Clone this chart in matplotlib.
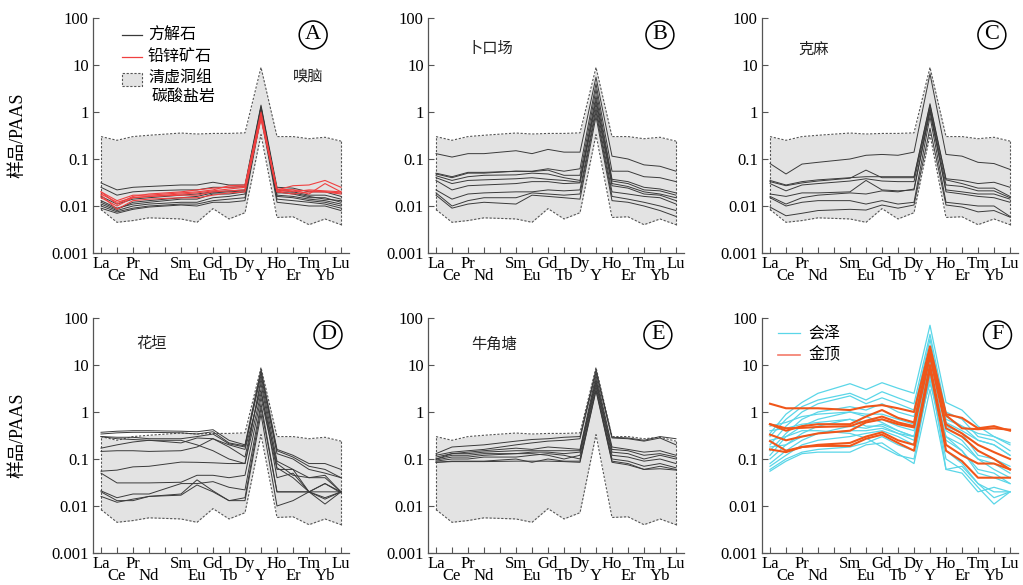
import matplotlib
matplotlib.use('Agg')
import matplotlib.pyplot as plt
from matplotlib.patches import Rectangle
from matplotlib.lines import Line2D
from matplotlib.ticker import FixedLocator, FixedFormatter

plt.rcParams['font.family'] = ['Liberation Serif', 'Noto Sans CJK SC', 'DejaVu Sans']
CJK = ['Noto Sans CJK SC', 'DejaVu Sans']

# ---------------- data ----------------
elements = ['La', 'Ce', 'Pr', 'Nd', 'Sm', 'Eu', 'Gd', 'Tb', 'Dy', 'Y', 'Ho', 'Er', 'Tm', 'Yb', 'Lu']
x_pos = [0, 1, 2, 3, 5, 6, 7, 8, 9, 10, 11, 12, 13, 14, 15]  # Pm slot (4) left empty
upper_labels = ['La', 'Pr', '', 'Sm', 'Gd', 'Dy', 'Ho', 'Tm', 'Lu']
upper_ticks = [0, 2, 4, 5, 7, 9, 11, 13, 15]
lower_labels = ['Ce', 'Nd', 'Eu', 'Tb', 'Y', 'Er', 'Yb']
lower_ticks = [1, 3, 6, 8, 10, 12, 14]
y_ticks = [0.001, 0.01, 0.1, 1, 10, 100]
y_tick_labels = ['0.001', '0.01', '0.1', '1', '10', '100']

# 清虚洞组碳酸盐岩 envelope
env_upper = [0.30, 0.25, 0.30, 0.32, 0.357, 0.34, 0.35, 0.35, 0.36, 8.9, 0.30, 0.30, 0.27, 0.29, 0.24]
env_lower = [0.0084, 0.0045, 0.0049, 0.0056, 0.0053, 0.0045, 0.0088, 0.0053, 0.0072, 0.33, 0.0057, 0.0059, 0.0040, 0.0053, 0.0040]

# A 嗅脑
A_calcite = [
    [0.031, 0.022, 0.025, 0.026, 0.028, 0.028, 0.032, 0.028, 0.028, 1.4, 0.025, 0.024, 0.020, 0.020, 0.016],
    [0.025, 0.017, 0.020, 0.021, 0.022, 0.022, 0.025, 0.025, 0.026, 1.3, 0.022, 0.020, 0.017, 0.017, 0.014],
    [0.016, 0.011, 0.014, 0.015, 0.017, 0.018, 0.020, 0.021, 0.022, 1.2, 0.020, 0.018, 0.015, 0.015, 0.012],
    [0.013, 0.009, 0.011, 0.012, 0.014, 0.014, 0.018, 0.018, 0.020, 1.1, 0.017, 0.016, 0.014, 0.013, 0.011],
    [0.011, 0.008, 0.010, 0.011, 0.012, 0.012, 0.015, 0.016, 0.018, 1.0, 0.016, 0.015, 0.013, 0.012, 0.010],
    [0.010, 0.0075, 0.009, 0.010, 0.011, 0.011, 0.013, 0.014, 0.015, 0.9, 0.014, 0.013, 0.012, 0.011, 0.009],
    [0.009, 0.007, 0.0085, 0.0095, 0.0105, 0.010, 0.012, 0.012, 0.013, 0.8, 0.012, 0.011, 0.010, 0.010, 0.008],
    [0.012, 0.0085, 0.012, 0.013, 0.015, 0.016, 0.019, 0.020, 0.021, 1.25, 0.019, 0.019, 0.016, 0.014, 0.013],
]
A_ore = [
    [0.020, 0.013, 0.017, 0.017, 0.019, 0.020, 0.022, 0.027, 0.028, 0.9, 0.022, 0.027, 0.028, 0.035, 0.025],
    [0.018, 0.012, 0.015, 0.016, 0.018, 0.019, 0.021, 0.023, 0.025, 0.8, 0.023, 0.022, 0.018, 0.030, 0.020],
    [0.015, 0.010, 0.015, 0.016, 0.017, 0.017, 0.020, 0.021, 0.022, 0.7, 0.020, 0.018, 0.020, 0.020, 0.019],
    [0.017, 0.0085, 0.013, 0.014, 0.015, 0.015, 0.017, 0.019, 0.020, 0.75, 0.022, 0.020, 0.022, 0.021, 0.020],
    [0.020, 0.011, 0.016, 0.018, 0.020, 0.022, 0.024, 0.025, 0.026, 1.0, 0.020, 0.022, 0.021, 0.020, 0.018],
]
# B 卜口场
B_calcite = [
    [0.13, 0.11, 0.13, 0.13, 0.15, 0.13, 0.16, 0.14, 0.14, 5.5, 0.115, 0.10, 0.075, 0.070, 0.055],
    [0.050, 0.042, 0.052, 0.052, 0.055, 0.055, 0.062, 0.055, 0.062, 4.0, 0.055, 0.055, 0.042, 0.040, 0.033],
    [0.048, 0.040, 0.050, 0.050, 0.055, 0.054, 0.058, 0.045, 0.045, 3.0, 0.037, 0.033, 0.025, 0.023, 0.019],
    [0.044, 0.035, 0.042, 0.045, 0.046, 0.050, 0.048, 0.040, 0.035, 2.2, 0.034, 0.030, 0.022, 0.021, 0.017],
    [0.040, 0.030, 0.035, 0.036, 0.038, 0.040, 0.037, 0.035, 0.032, 1.8, 0.030, 0.026, 0.020, 0.018, 0.015],
    [0.035, 0.022, 0.027, 0.028, 0.030, 0.033, 0.033, 0.030, 0.031, 1.5, 0.027, 0.024, 0.018, 0.017, 0.013],
    [0.022, 0.014, 0.018, 0.019, 0.020, 0.020, 0.022, 0.021, 0.022, 1.2, 0.020, 0.018, 0.016, 0.015, 0.011],
    [0.019, 0.010, 0.013, 0.015, 0.015, 0.019, 0.018, 0.017, 0.018, 1.0, 0.016, 0.014, 0.012, 0.010, 0.008],
    [0.017, 0.009, 0.011, 0.012, 0.011, 0.017, 0.016, 0.015, 0.014, 0.8, 0.013, 0.012, 0.010, 0.008, 0.006],
]
# C 克麻
C_calcite = [
    [0.080, 0.048, 0.078, 0.085, 0.10, 0.12, 0.125, 0.12, 0.14, 6.5, 0.125, 0.115, 0.085, 0.080, 0.060],
    [0.035, 0.028, 0.033, 0.036, 0.040, 0.042, 0.042, 0.042, 0.042, 1.5, 0.038, 0.035, 0.030, 0.032, 0.025],
    [0.033, 0.027, 0.031, 0.034, 0.039, 0.058, 0.040, 0.040, 0.040, 1.4, 0.036, 0.030, 0.024, 0.024, 0.016],
    [0.030, 0.021, 0.028, 0.030, 0.034, 0.038, 0.034, 0.033, 0.033, 1.2, 0.028, 0.026, 0.021, 0.021, 0.015],
    [0.018, 0.016, 0.019, 0.019, 0.020, 0.035, 0.022, 0.021, 0.022, 1.0, 0.022, 0.020, 0.018, 0.018, 0.014],
    [0.016, 0.011, 0.015, 0.017, 0.019, 0.018, 0.021, 0.020, 0.023, 1.1, 0.020, 0.018, 0.016, 0.015, 0.012],
    [0.015, 0.010, 0.012, 0.013, 0.013, 0.011, 0.013, 0.011, 0.012, 0.8, 0.012, 0.011, 0.010, 0.010, 0.006],
    [0.0095, 0.0062, 0.007, 0.008, 0.0085, 0.0082, 0.0105, 0.009, 0.0105, 0.45, 0.0105, 0.0095, 0.0075, 0.008, 0.0058],
]
# D 花垣
D_calcite = [
    [0.37, 0.39, 0.40, 0.40, 0.39, 0.38, 0.42, 0.25, 0.20, 8.0, 0.16, 0.12, 0.08, 0.08, 0.06],
    [0.34, 0.36, 0.37, 0.37, 0.36, 0.34, 0.38, 0.22, 0.19, 7.0, 0.15, 0.11, 0.07, 0.06, 0.04],
    [0.30, 0.29, 0.29, 0.27, 0.27, 0.30, 0.34, 0.21, 0.18, 6.0, 0.13, 0.10, 0.06, 0.05, 0.04],
    [0.17, 0.20, 0.23, 0.25, 0.25, 0.20, 0.15, 0.10, 0.08, 5.0, 0.09, 0.06, 0.04, 0.04, 0.02],
    [0.30, 0.27, 0.26, 0.25, 0.22, 0.28, 0.27, 0.18, 0.11, 4.0, 0.065, 0.04, 0.02, 0.03, 0.02],
    [0.145, 0.15, 0.15, 0.145, 0.15, 0.18, 0.27, 0.20, 0.16, 3.0, 0.04, 0.05, 0.02, 0.015, 0.02],
    [0.055, 0.058, 0.068, 0.070, 0.086, 0.085, 0.083, 0.080, 0.080, 2.5, 0.08, 0.045, 0.04, 0.045, 0.02],
    [0.050, 0.031, 0.031, 0.031, 0.032, 0.045, 0.045, 0.040, 0.045, 2.0, 0.06, 0.06, 0.02, 0.02, 0.02],
    [0.021, 0.015, 0.018, 0.018, 0.030, 0.030, 0.033, 0.025, 0.022, 1.5, 0.02, 0.02, 0.02, 0.03, 0.019],
    [0.020, 0.013, 0.013, 0.016, 0.018, 0.036, 0.021, 0.013, 0.013, 0.9, 0.01, 0.013, 0.02, 0.011, 0.02],
    [0.016, 0.012, 0.014, 0.016, 0.017, 0.028, 0.020, 0.013, 0.015, 1.2, 0.02, 0.02, 0.02, 0.014, 0.02],
]
# E 牛角塘
E_calcite = [
    [0.13, 0.18, 0.19, 0.20, 0.24, 0.26, 0.27, 0.29, 0.30, 8.0, 0.29, 0.28, 0.25, 0.30, 0.27],
    [0.12, 0.14, 0.15, 0.16, 0.20, 0.22, 0.24, 0.25, 0.27, 7.0, 0.28, 0.27, 0.24, 0.28, 0.20],
    [0.11, 0.13, 0.14, 0.15, 0.17, 0.16, 0.18, 0.17, 0.16, 6.0, 0.18, 0.16, 0.14, 0.15, 0.12],
    [0.10, 0.13, 0.13, 0.14, 0.15, 0.15, 0.15, 0.15, 0.15, 5.0, 0.16, 0.15, 0.12, 0.13, 0.11],
    [0.10, 0.12, 0.12, 0.13, 0.13, 0.14, 0.14, 0.13, 0.14, 4.5, 0.14, 0.13, 0.10, 0.12, 0.10],
    [0.095, 0.11, 0.11, 0.12, 0.13, 0.13, 0.12, 0.10, 0.12, 4.0, 0.12, 0.11, 0.09, 0.10, 0.08],
    [0.09, 0.10, 0.10, 0.11, 0.11, 0.12, 0.13, 0.12, 0.10, 3.5, 0.10, 0.09, 0.07, 0.08, 0.065],
    [0.085, 0.09, 0.09, 0.09, 0.10, 0.085, 0.10, 0.09, 0.09, 3.0, 0.09, 0.08, 0.06, 0.07, 0.06],
    [0.085, 0.088, 0.088, 0.088, 0.09, 0.09, 0.09, 0.088, 0.085, 2.8, 0.085, 0.075, 0.06, 0.062, 0.058],
]
# F 会泽 / 金顶
F_huize = [
    [0.35, 0.9, 1.6, 2.5, 4.0, 3.0, 4.2, 3.2, 2.5, 70, 1.6, 1.1, 0.5, 0.3, 0.2],
    [0.30, 0.7, 1.3, 1.8, 2.5, 1.8, 2.7, 2.0, 1.5, 45, 1.0, 0.7, 0.3, 0.25, 0.15],
    [0.20, 0.5, 1.0, 1.5, 2.2, 1.5, 2.0, 1.5, 1.1, 35, 0.8, 0.5, 0.25, 0.2, 0.12],
    [0.15, 0.35, 0.7, 1.0, 1.3, 1.1, 1.5, 1.0, 0.8, 25, 0.5, 0.35, 0.12, 0.1, 0.07],
    [0.12, 0.3, 0.5, 0.7, 1.0, 0.9, 0.9, 0.7, 0.55, 20, 0.4, 0.25, 0.1, 0.08, 0.05],
    [0.10, 0.2, 0.35, 0.5, 0.7, 0.6, 0.7, 0.5, 0.4, 15, 0.25, 0.15, 0.05, 0.04, 0.03],
    [0.08, 0.15, 0.25, 0.35, 0.5, 0.45, 0.55, 0.4, 0.3, 10, 0.15, 0.08, 0.03, 0.02, 0.02],
    [0.07, 0.12, 0.2, 0.25, 0.3, 0.35, 0.4, 0.3, 0.2, 8, 0.06, 0.07, 0.03, 0.015, 0.02],
    [0.06, 0.1, 0.14, 0.16, 0.18, 0.22, 0.3, 0.2, 0.15, 5, 0.1, 0.06, 0.025, 0.011, 0.02],
    [0.055, 0.09, 0.13, 0.14, 0.14, 0.2, 0.22, 0.13, 0.08, 3, 0.06, 0.05, 0.02, 0.025, 0.02],
    [0.50, 0.6, 0.8, 0.9, 1.0, 0.8, 0.6, 0.4, 0.3, 12, 0.7, 0.5, 0.35, 0.3, 0.22],
    [0.40, 0.45, 0.55, 0.6, 0.7, 0.5, 0.5, 0.35, 0.25, 15, 0.6, 0.4, 0.25, 0.2, 0.12],
    [0.25, 0.3, 0.4, 0.4, 0.35, 0.28, 0.18, 0.12, 0.1, 6, 0.3, 0.2, 0.1, 0.06, 0.04],
    [0.18, 0.2, 0.3, 0.35, 0.4, 0.4, 0.45, 0.35, 0.3, 4, 0.3, 0.15, 0.06, 0.05, 0.03],
]
F_jinding = [
    [1.5, 1.2, 1.2, 1.2, 1.1, 1.3, 1.4, 1.2, 1.0, 25, 0.9, 0.75, 0.45, 0.5, 0.4],
    [0.55, 0.4, 0.5, 0.55, 0.55, 0.8, 1.1, 0.75, 0.6, 20, 0.85, 0.45, 0.43, 0.45, 0.42],
    [0.55, 0.45, 0.46, 0.48, 0.5, 0.65, 0.8, 0.6, 0.5, 18, 0.55, 0.35, 0.2, 0.14, 0.1],
    [0.33, 0.25, 0.3, 0.35, 0.4, 0.6, 0.7, 0.55, 0.47, 15, 0.45, 0.3, 0.15, 0.1, 0.06],
    [0.24, 0.15, 0.18, 0.2, 0.22, 0.3, 0.37, 0.25, 0.2, 10, 0.2, 0.12, 0.08, 0.08, 0.06],
    [0.16, 0.14, 0.18, 0.19, 0.19, 0.27, 0.33, 0.22, 0.15, 8, 0.15, 0.09, 0.04, 0.04, 0.04],
]

panel_letters = ['A', 'B', 'C', 'D', 'E', 'F']
site_names = ['嗅脑', '卜口场', '克麻', '花垣', '牛角塘', '']

# ---------------- layout ----------------
W, H = 1023, 585
fig = plt.figure(figsize=(W / 100, H / 100), dpi=100)
lefts = [93, 428, 762]
tops = [18, 318]
ax_w, ax_h = 256, 235

BLACK = '#3a3a3a'
RED = '#f04040'
CYAN = '#5ad6e8'
ORANGE = '#f0561a'

letter_pos = [(0.86, 0.928), (0.906, 0.928), (0.898, 0.928),
              (0.918, 0.928), (0.898, 0.928), (0.92, 0.928)]
site_pos = [(0.84, 0.75), (0.242, 0.872), (0.2, 0.868),
            (0.23, 0.89), (0.26, 0.89), (0, 0)]

axes = []
for r in range(2):
    for c in range(3):
        ax = fig.add_axes([lefts[c] / W, 1 - (tops[r] + ax_h) / H, ax_w / W, ax_h / H])
        axes.append(ax)

for i, ax in enumerate(axes):
    ax.set_yscale('log')
    ax.set_ylim(0.001, 100)
    ax.set_xlim(-0.5, 15.5)
    for s in ['top', 'right']:
        ax.spines[s].set_visible(False)
    for s in ['left', 'bottom']:
        ax.spines[s].set_color('#555555')
        ax.spines[s].set_linewidth(0.9)
    ax.yaxis.set_major_locator(FixedLocator(y_ticks))
    ax.yaxis.set_major_formatter(FixedFormatter(y_tick_labels))
    ax.yaxis.set_minor_locator(FixedLocator([]))
    ax.xaxis.set_major_locator(FixedLocator(upper_ticks))
    ax.xaxis.set_major_formatter(FixedFormatter(upper_labels))
    ax.xaxis.set_minor_locator(FixedLocator(lower_ticks))
    ax.xaxis.set_minor_formatter(FixedFormatter(lower_labels))
    ax.tick_params(axis='y', which='major', direction='in', length=4, width=0.8,
                   color='#555555', labelsize=12, pad=3)
    ax.tick_params(axis='x', which='major', direction='in', length=4, width=0.8,
                   color='#555555', labelsize=12, pad=2)
    ax.tick_params(axis='x', which='minor', direction='in', length=4, width=0.8,
                   color='#555555', labelsize=12, pad=10.5)

    if i < 5:
        ax.fill_between(x_pos, env_lower, env_upper, color='#e3e3e3', lw=0, zorder=1)
        ax.plot(x_pos, env_upper, ls=(0, (2, 1.5)), color='#555555', lw=0.8, zorder=2)
        ax.plot(x_pos, env_lower, ls=(0, (2, 1.5)), color='#555555', lw=0.8, zorder=2)
        ax.plot([x_pos[0], x_pos[0]], [env_lower[0], env_upper[0]], ls=(0, (2, 1.5)),
                color='#555555', lw=0.8, zorder=2)
        ax.plot([x_pos[-1], x_pos[-1]], [env_lower[-1], env_upper[-1]], ls=(0, (2, 1.5)),
                color='#555555', lw=0.8, zorder=2)

    ax.text(letter_pos[i][0], letter_pos[i][1], panel_letters[i], transform=ax.transAxes,
            ha='center', va='center', fontsize=16, family=['Liberation Serif'],
            bbox=dict(boxstyle='circle,pad=0.2', fc='white', ec='black', lw=1.1), zorder=10)
    if site_names[i]:
        ax.text(site_pos[i][0], site_pos[i][1], site_names[i], transform=ax.transAxes,
                ha='center', va='center', fontsize=11, family=CJK, color='#222222', zorder=10)

series_by_panel = [A_calcite, B_calcite, C_calcite, D_calcite, E_calcite]
for i, data in enumerate(series_by_panel):
    for row in data:
        axes[i].plot(x_pos, row, color=BLACK, lw=0.7, zorder=3)
for row in A_ore:
    axes[0].plot(x_pos, row, color=RED, lw=0.8, zorder=4)
for row in F_huize:
    axes[5].plot(x_pos, row, color=CYAN, lw=0.9, zorder=3)
for row in F_jinding:
    axes[5].plot(x_pos, row, color=ORANGE, lw=1.5, zorder=4)

# legend in A (manual)
axA = axes[0]
def px2ax(px, py, c=0, r=0):
    return ((px - lefts[c]) / ax_w, (tops[r] + ax_h - py) / ax_h)

x0, _ = px2ax(122, 0)
x1, _ = px2ax(142, 0)
xt, _ = px2ax(148, 0)
_, y1 = px2ax(0, 35)
_, y2 = px2ax(0, 57)
axA.add_line(Line2D([x0, x1], [y1, y1], transform=axA.transAxes, color=BLACK, lw=0.9))
axA.add_line(Line2D([x0, x1], [y2, y2], transform=axA.transAxes, color=RED, lw=0.9))
axA.text(xt, y1, '方解石', transform=axA.transAxes, va='center', ha='left', fontsize=11.5, family=CJK)
axA.text(xt, y2, '铅锌矿石', transform=axA.transAxes, va='center', ha='left', fontsize=11.5, family=CJK)
_, yb0 = px2ax(0, 86)
_, yb1 = px2ax(0, 73)
axA.add_patch(Rectangle((x0, yb0), x1 - x0, yb1 - yb0, transform=axA.transAxes,
                        fc='#e3e3e3', ec='#555555', lw=0.8, ls=(0, (2, 1.5)), zorder=5))
_, y3 = px2ax(0, 78)
_, y4 = px2ax(0, 96)
axA.text(xt, y3, '清虚洞组', transform=axA.transAxes, va='center', ha='left', fontsize=11.5, family=CJK)
axA.text(xt + 0.012, y4, '碳酸盐岩', transform=axA.transAxes, va='center', ha='left', fontsize=11.5, family=CJK)

# legend in F
axF = axes[5]
fx0, _ = px2ax(778, 0, c=2)
fx1, _ = px2ax(800, 0, c=2)
fxt, _ = px2ax(808, 0, c=2)
_, fy1 = px2ax(0, 333, r=1)
_, fy2 = px2ax(0, 355, r=1)
axF.add_line(Line2D([fx0, fx1], [fy1, fy1], transform=axF.transAxes, color=CYAN, lw=0.9))
axF.add_line(Line2D([fx0, fx1], [fy2, fy2], transform=axF.transAxes, color='#f47a6a', lw=1.2))
axF.text(fxt, fy1, '会泽', transform=axF.transAxes, va='center', ha='left', fontsize=11.5, family=CJK)
axF.text(fxt, fy2, '金顶', transform=axF.transAxes, va='center', ha='left', fontsize=11.5, family=CJK)

# y labels
for r in range(2):
    yc = 1 - (tops[r] + ax_h / 2) / H
    fig.text(18 / W, yc, '样品/PAAS', rotation=90, ha='center', va='center', fontsize=13,
             family=['Liberation Serif', 'Noto Sans CJK SC'])

fig.savefig('out.png', dpi=100)
